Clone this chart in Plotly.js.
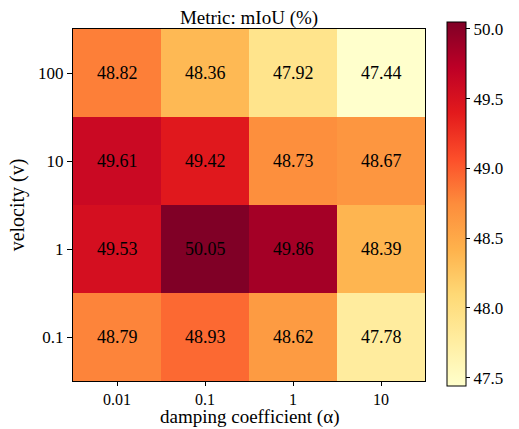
<!DOCTYPE html>
<html>
<head>
<meta charset="utf-8">
<script src="https://cdn.plot.ly/plotly-3.0.1.min.js"></script>
<style>html,body{margin:0;padding:0;background:#fff;}#chart{width:519px;height:429px;}</style>
</head>
<body>
<div id="chart"></div>
<script>
const xLabels = ['0.01', '0.1', '1', '10'];
const yLabels = ['0.1', '1', '10', '100'];
const row_0_1 = [48.79, 48.93, 48.62, 47.78];
const row_1 = [49.53, 50.05, 49.86, 48.39];
const row_10 = [49.61, 49.42, 48.73, 48.67];
const row_100 = [48.82, 48.36, 47.92, 47.44];
const cbTicks = [47.5, 48.0, 48.5, 49.0, 49.5, 50.0];

const z = [row_0_1, row_1, row_10, row_100];
const flat = z.flat();
const zmin = Math.min(...flat), zmax = Math.max(...flat);

const ylorrd = ['#ffffcc','#ffeda0','#fed976','#feb24c','#fd8d3c','#fc4e2a','#e31a1c','#bd0026','#800026'];
const colorscale = ylorrd.map((c, i) => [i / (ylorrd.length - 1), c]);

const font = '"Liberation Serif", "Times New Roman", serif';
const L = 73, R = 425, T = 29, B = 381, W = 519, H = 429;

const trace = {
  type: 'heatmap',
  x: xLabels, y: yLabels, z: z,
  zmin: zmin, zmax: zmax,
  colorscale: colorscale,
  xgap: 0, ygap: 0,
  hoverinfo: 'skip',
  colorbar: {
    thickness: 19, thicknessmode: 'pixels',
    len: 364, lenmode: 'pixels',
    x: (447 - L) / (R - L), xanchor: 'left',
    y: (B - 204) / (B - T), yanchor: 'middle',
    xpad: 0, ypad: 0,
    outlinewidth: 1, outlinecolor: '#000',
    tickvals: cbTicks, ticktext: cbTicks.map(v => v.toFixed(1)),
    ticks: 'outside', ticklen: 4, tickcolor: '#000',
    tickfont: {family: font, size: 17, color: '#000'}
  }
};

const annotations = [];
z.forEach((row, i) => row.forEach((v, j) => {
  annotations.push({x: j, y: i, xref: 'x', yref: 'y', text: v.toFixed(2),
    showarrow: false, font: {family: font, size: 18, color: '#000'}});
}));
annotations.push({text: 'damping coefficient (α)', xref: 'paper', yref: 'paper',
  x: 0.5, y: (B - 429) / (B - T), xanchor: 'center', yanchor: 'bottom', showarrow: false,
  borderpad: 0, font: {family: font, size: 19, color: '#000'}});

const layout = {
  width: W, height: H,
  margin: {l: L, r: W - R, t: T, b: H - B, pad: 0},
  paper_bgcolor: '#fff', plot_bgcolor: '#fff',
  font: {family: font, color: '#000'},
  annotations: annotations,
  title: {text: 'Metric: mIoU (%)', font: {family: font, size: 19, color: '#000'},
          x: 0.5, xref: 'paper', y: 1, yref: 'paper', yanchor: 'bottom', pad: {b: 5}},
  xaxis: {
    type: 'category', range: [-0.5, xLabels.length - 0.5],
    showline: true, mirror: true, linecolor: '#000', linewidth: 1,
    ticks: 'outside', ticklen: 4, tickcolor: '#000', showgrid: false, zeroline: false,
    tickfont: {family: font, size: 16, color: '#000'}
  },
  yaxis: {
    type: 'category', range: [-0.5, yLabels.length - 0.5],
    showline: true, mirror: true, linecolor: '#000', linewidth: 1,
    ticks: 'outside', ticklen: 5, tickcolor: '#000', showgrid: false, zeroline: false,
    tickfont: {family: font, size: 17, color: '#000'},
    title: {text: 'velocity (v)', font: {family: font, size: 20, color: '#000'}, standoff: 8}
  }
};

Plotly.newPlot('chart', [trace], layout, {displayModeBar: false, staticPlot: true});
</script>
</body>
</html>
